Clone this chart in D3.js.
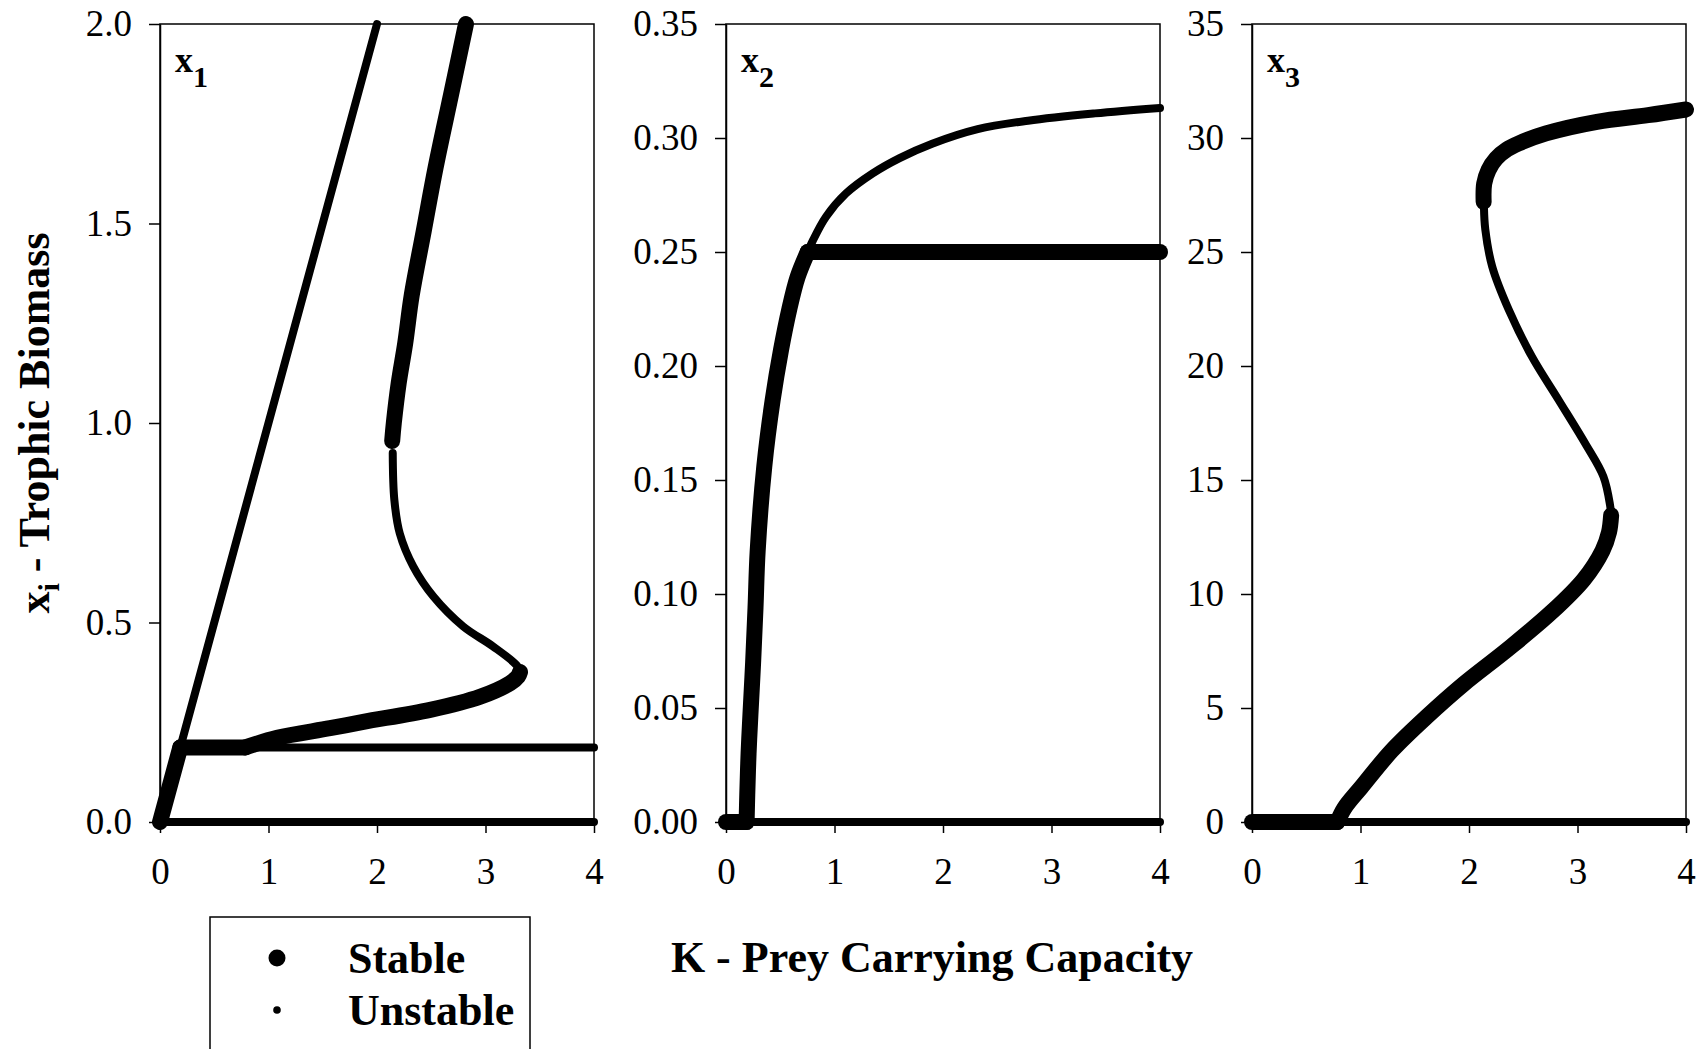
<!DOCTYPE html>
<html>
<head>
<meta charset="utf-8">
<script src="https://cdn.jsdelivr.net/npm/d3@7"></script>
<style>
  html, body { margin: 0; padding: 0; background: #fff; }
  svg text { font-family: "Liberation Serif", "Times New Roman", serif; fill: #000; }
</style>
</head>
<body>
<div id="chart"></div>
<script>
// axis ticks
const kTicks = [0, 1, 2, 3, 4];
const x1Ticks = [0, 0.5, 1.0, 1.5, 2.0];
const x2Ticks = [0, 0.05, 0.10, 0.15, 0.20, 0.25, 0.30, 0.35];
const x3Ticks = [0, 5, 10, 15, 20, 25, 30, 35];

// x1 panel branches, [K, x1]
const x1ZeroUnstable = [[0, 0], [4, 0]];
const x1PreyStable = [[0, 0], [0.187, 0.187]];
const x1PreyUnstable = [[0.187, 0.187], [2.0, 2.0]];
const x1FlatStable = [[0.187, 0.187], [0.787, 0.187]];
const x1FlatUnstable = [[0.787, 0.187], [4, 0.187]];
const x1LowStable = [[0.787, 0.187], [1.08, 0.211], [1.567, 0.235], [1.874, 0.251], [2.49, 0.281],
  [2.95, 0.314], [3.226, 0.348], [3.30, 0.365], [3.318, 0.376]];
const x1MidUnstable = [[3.318, 0.376], [3.29, 0.392], [3.07, 0.44], [2.795, 0.49], [2.52, 0.565],
  [2.335, 0.64], [2.21, 0.723], [2.16, 0.807], [2.145, 0.925]];
const x1HighStable = [[2.14, 0.955], [2.155, 1.0], [2.2, 1.1], [2.26, 1.2], [2.32, 1.32],
  [2.43, 1.48], [2.54, 1.64], [2.68, 1.82], [2.82, 2.0]];

// x2 panel branches, [K, x2]
const x2ZeroStable = [[0, 0], [0.19, 0]];
const x2ZeroUnstable = [[0.19, 0], [4, 0]];
const x2RiseStable = [[0.19, 0], [0.196, 0.012], [0.208, 0.03], [0.225, 0.047], [0.25, 0.07],
  [0.272, 0.094], [0.292, 0.119], [0.353, 0.156], [0.43, 0.185], [0.507, 0.207],
  [0.584, 0.225], [0.66, 0.239], [0.753, 0.25]];
const x2FlatStable = [[0.753, 0.25], [4, 0.25]];
const x2TopUnstable = [[0.753, 0.25], [0.80, 0.255], [0.922, 0.2655], [1.106, 0.2757], [1.352, 0.2845],
  [1.60, 0.2912], [1.90, 0.2975], [2.32, 0.3039], [2.784, 0.3076], [3.40, 0.3108], [4, 0.3132]];

// x3 panel branches, [K, x3]
const x3ZeroStable = [[0, 0], [0.787, 0]];
const x3ZeroUnstable = [[0.787, 0], [4, 0]];
const x3LowStable = [[0.787, 0], [0.85, 0.6], [1.008, 1.53], [1.29, 3.14], [1.606, 4.6], [1.953, 6.06],
  [2.35, 7.55], [2.76, 9.2], [3.06, 10.65], [3.23, 11.9], [3.29, 12.7], [3.31, 13.45]];
const x3MidUnstable = [[3.31, 13.45], [3.30, 13.9], [3.239, 15.15], [3.07, 16.61], [2.826, 18.51],
  [2.58, 20.41], [2.367, 22.46], [2.214, 24.36], [2.15, 26.0], [2.138, 26.95]];
const x3HighStable = [[2.135, 27.2], [2.14, 28.0], [2.18, 28.6], [2.25, 29.1], [2.35, 29.5],
  [2.457, 29.76], [2.71, 30.2], [3.18, 30.71], [3.65, 31.0], [4, 31.25]];

const W = 1707, H = 1049;
const plotTop = 24, plotH = 798, plotW = 434;

const svg = d3.select("#chart").append("svg")
  .attr("width", W)
  .attr("height", H);

const panels = [
  { left: 160, label: "1", max: 2, ticks: x1Ticks, fmt: d3.format(".1f"),
    unstable: [x1ZeroUnstable, x1PreyUnstable, x1FlatUnstable, x1MidUnstable],
    stable: [x1PreyStable, x1FlatStable, x1LowStable, x1HighStable] },
  { left: 726, label: "2", max: 0.35, ticks: x2Ticks, fmt: d3.format(".2f"),
    unstable: [x2ZeroUnstable, x2TopUnstable],
    stable: [x2ZeroStable, x2RiseStable, x2FlatStable] },
  { left: 1252, label: "3", max: 35, ticks: x3Ticks, fmt: d3.format("d"),
    unstable: [x3ZeroUnstable, x3MidUnstable],
    stable: [x3ZeroStable, x3LowStable, x3HighStable] }
];

panels.forEach(function(p) {
  let x = d3.scaleLinear().domain([0, 4]).range([0, plotW]);
  let y = d3.scaleLinear().domain([0, p.max]).range([plotH, 0]);

  let g = svg.append("g")
    .attr("transform", "translate(" + p.left + "," + plotTop + ")");

  let line = d3.line()
    .x(function(d) { return x(d[0]); })
    .y(function(d) { return y(d[1]); })
    .curve(d3.curveCatmullRom.alpha(0.5));

  // frame
  g.append("rect")
    .attr("width", plotW)
    .attr("height", plotH)
    .attr("fill", "none")
    .attr("stroke", "#000")
    .attr("stroke-width", 1.5);

  let yAxis = g.append("g")
    .call(d3.axisLeft(y).tickValues(p.ticks).tickFormat(p.fmt).tickSize(11).tickSizeOuter(0).tickPadding(17));
  let xAxis = g.append("g")
    .attr("transform", "translate(0," + plotH + ")")
    .call(d3.axisBottom(x).tickValues(kTicks).tickFormat(d3.format("d")).tickSize(11).tickSizeOuter(0).tickPadding(25));

  [yAxis, xAxis].forEach(function(a) {
    a.select(".domain").attr("stroke-width", 1.5);
    a.selectAll(".tick line").attr("stroke-width", 1.5);
    a.selectAll("text").attr("font-size", 37).attr("font-family", "Liberation Serif");
  });

  g.selectAll(".unstable")
    .data(p.unstable)
    .enter().append("path")
    .attr("class", "unstable")
    .attr("d", line)
    .attr("fill", "none")
    .attr("stroke", "#000")
    .attr("stroke-width", 8)
    .attr("stroke-linecap", "round")
    .attr("stroke-linejoin", "round");

  g.selectAll(".stable")
    .data(p.stable)
    .enter().append("path")
    .attr("class", "stable")
    .attr("d", line)
    .attr("fill", "none")
    .attr("stroke", "#000")
    .attr("stroke-width", 16)
    .attr("stroke-linecap", "round")
    .attr("stroke-linejoin", "round");

  // panel label
  let lab = g.append("text")
    .attr("x", 15)
    .attr("y", 48)
    .attr("font-size", 36)
    .attr("font-weight", "bold");
  lab.append("tspan").text("x");
  lab.append("tspan").attr("font-size", 30).attr("dy", 15).text(p.label);
});

// y axis title
let yt = svg.append("text")
  .attr("transform", "translate(49," + (plotTop + plotH / 2) + ") rotate(-90)")
  .attr("text-anchor", "middle")
  .attr("font-size", 44)
  .attr("font-weight", "bold");
yt.append("tspan").text("x");
yt.append("tspan").attr("font-size", 30).attr("dy", 10).text("i");
yt.append("tspan").attr("dy", -10).text(" - Trophic Biomass");

// x axis title
svg.append("text")
  .attr("x", 932)
  .attr("y", 972)
  .attr("text-anchor", "middle")
  .attr("font-size", 44)
  .attr("font-weight", "bold")
  .text("K - Prey Carrying Capacity");

// legend
let leg = svg.append("g");
leg.append("rect")
  .attr("x", 210)
  .attr("y", 917)
  .attr("width", 320)
  .attr("height", 200)
  .attr("fill", "none")
  .attr("stroke", "#000")
  .attr("stroke-width", 1.5);

const legendItems = ["Stable", "Unstable"];
const legendRadius = [8.5, 3.8];
legendItems.forEach(function(name, i) {
  leg.append("circle")
    .attr("cx", 277)
    .attr("cy", 958 + i * 52)
    .attr("r", legendRadius[i])
    .attr("fill", "#000");
  leg.append("text")
    .attr("x", 348)
    .attr("y", 973 + i * 52)
    .attr("font-size", 44)
    .attr("font-weight", "bold")
    .text(name);
});
</script>
</body>
</html>
